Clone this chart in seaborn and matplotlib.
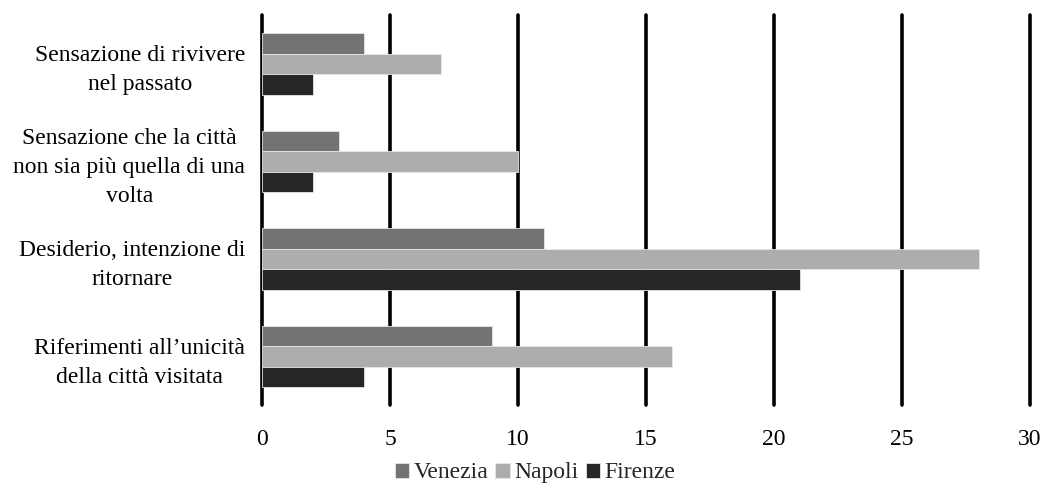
import pandas as pd
import matplotlib
matplotlib.use("Agg")
import matplotlib.pyplot as plt
import seaborn as sns

# DATA
CATEGORIES = [
    "Sensazione di rivivere\nnel passato",
    "Sensazione che la città\nnon sia più quella di una\nvolta",
    "Desiderio, intenzione di\nritornare",
    "Riferimenti all\u2019unicità\ndella città visitata",
]
SERIES = ["Venezia", "Napoli", "Firenze"]
VENEZIA = [4, 3, 11, 9]
NAPOLI = [7, 10, 28, 16]
FIRENZE = [2, 2, 21, 4]
X_TICKS = [0, 5, 10, 15, 20, 25, 30]
COLORS = ["#767171", "#AFABAB", "#262626"]

rows = []
for name, vals in zip(SERIES, [VENEZIA, NAPOLI, FIRENZE]):
    for cat, v in zip(CATEGORIES, vals):
        rows.append({"Categoria": cat, "Città": name, "Valore": v})
df = pd.DataFrame(rows)

sns.set_theme(style="white")
plt.rcParams["font.family"] = ["Liberation Serif", "DejaVu Serif"]

fig = plt.figure(figsize=(10.49, 4.88), dpi=100)
ax = fig.add_axes([0.2498, 0.17, 0.982 - 0.2498, 0.969 - 0.17])

sns.barplot(
    data=df, y="Categoria", x="Valore", hue="Città",
    hue_order=SERIES, order=CATEGORIES, palette=COLORS,
    orient="h", width=0.63, gap=0, errorbar=None,
    edgecolor="#e6e6e6", linewidth=0.6, ax=ax, legend=True,
)

ax.set_xlim(0, 30)
ax.set_ylim(3.5, -0.5)
ax.set_xticks(X_TICKS)
for x in X_TICKS:
    ax.axvline(x, color="black", linewidth=2.6, zorder=0, clip_on=False)
for s in ax.spines.values():
    s.set_visible(False)
ax.set_xlabel("")
ax.set_ylabel("")
ax.tick_params(axis="both", length=0, labelsize=17, colors="black")
ax.tick_params(axis="x", pad=17)
ax.tick_params(axis="y", pad=12)
for lab in ax.get_yticklabels():
    lab.set_multialignment("center")
    lab.set_linespacing(1.5)

handles, labels = ax.get_legend_handles_labels()
ax.get_legend().remove()
fig.legend(
    handles, labels, loc="lower center", bbox_to_anchor=(0.51, -0.034),
    ncol=3, frameon=False, fontsize=17, handlelength=0.6, handleheight=0.6,
    handletextpad=0.2, columnspacing=0.3,
)

fig.savefig("out.png", dpi=100)
